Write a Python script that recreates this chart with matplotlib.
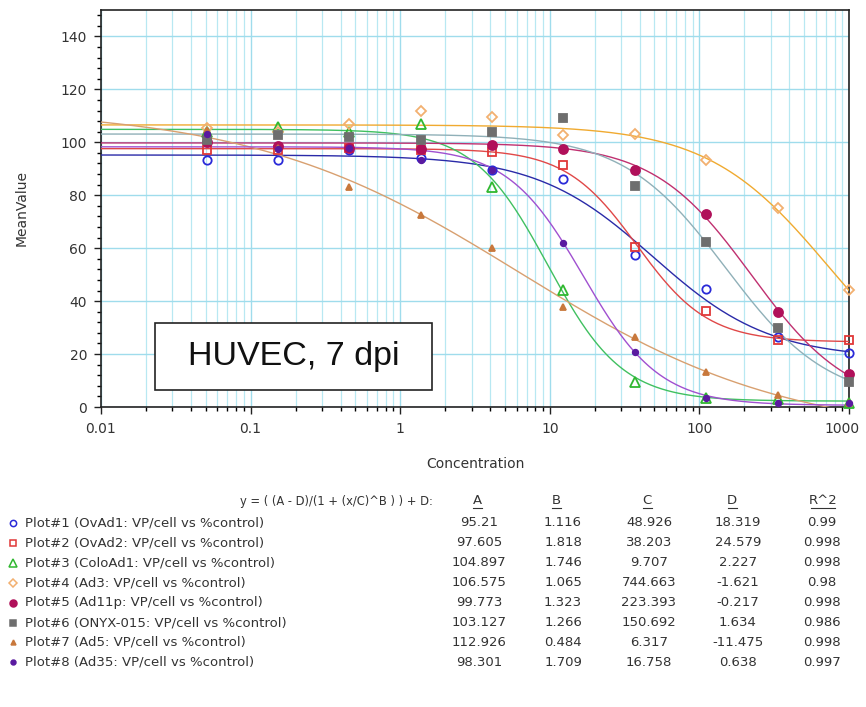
import numpy as np
import matplotlib
matplotlib.use('Agg')
import matplotlib.pyplot as plt
from matplotlib.patches import Rectangle
from matplotlib.transforms import offset_copy
from matplotlib.ticker import FixedLocator, FixedFormatter, MultipleLocator, LogLocator, NullFormatter

plt.rcParams['font.family'] = ['DejaVu Sans']

# 3-fold dilution series (VP/cell)
conc = [0.0508, 0.152, 0.457, 1.37, 4.12, 12.3, 37.0, 111.0, 333.0, 1000.0]

names = ['Plot#1 (OvAd1: VP/cell vs %control)',
         'Plot#2 (OvAd2: VP/cell vs %control)',
         'Plot#3 (ColoAd1: VP/cell vs %control)',
         'Plot#4 (Ad3: VP/cell vs %control)',
         'Plot#5 (Ad11p: VP/cell vs %control)',
         'Plot#6 (ONYX-015: VP/cell vs %control)',
         'Plot#7 (Ad5: VP/cell vs %control)',
         'Plot#8 (Ad35: VP/cell vs %control)']

# fitted 4PL parameters
A = [95.21, 97.605, 104.897, 106.575, 99.773, 103.127, 112.926, 98.301]
B = [1.116, 1.818, 1.746, 1.065, 1.323, 1.266, 0.484, 1.709]
C = [48.926, 38.203, 9.707, 744.663, 223.393, 150.692, 6.317, 16.758]
D = [18.319, 24.579, 2.227, -1.621, -0.217, 1.634, -11.475, 0.638]
R2 = [0.99, 0.998, 0.998, 0.98, 0.998, 0.986, 0.998, 0.997]

# measured %control values
ovad1 = [93.5, 93.2, 97, 94, 89.4, 86.3, 57.5, 44.4, 26.3, 20.5]
ovad2 = [97, 97, 98, 97, 96.3, 91.3, 60.5, 36.2, 25.3, 25.3]
coload1 = [104, 105.8, 104, 106.8, 83.1, 44.2, 9.5, 3.3, 3, 1.5]
ad3 = [105.5, 104, 107, 111.8, 109.5, 102.6, 103.3, 93.2, 75, 44.2]
ad11p = [100, 98.5, 97.7, 97.5, 98.9, 97.6, 89.4, 73.1, 36, 12.5]
onyx = [101, 102.6, 102, 100.8, 103.9, 109.3, 83.4, 62.4, 30, 9.5]
ad5 = [104.5, 98, 83.1, 72.5, 59.9, 37.9, 26.5, 13.3, 4.5, 1.4]
ad35 = [103.3, 97.5, 97.7, 93.2, 89.4, 61.8, 20.6, 3.3, 1.4, 1.4]
values = [ovad1, ovad2, coload1, ad3, ad11p, onyx, ad5, ad35]

# styles
mcolors = ['#2a2ad8', '#e03838', '#30b830', '#f2b070', '#b0105a', '#6e6e6e', '#c8783c', '#5a1aa0']
lcolors = ['#2a2aa8', '#e04848', '#40c060', '#f0aa30', '#c03070', '#90b0b8', '#d8a070', '#a050d0']
markers = ['o', 's', '^', 'D', 'o', 's', '^', 'o']
msizes = [6, 6, 7, 5.5, 6.5, 5.5, 4, 4]
filled = [False, False, False, False, True, True, True, True]


def fourpl(x, a, b, c, d):
    return d + (a - d) / (1 + (x / c) ** b)


fig = plt.figure(figsize=(8.66, 7.07), dpi=100)
ax = fig.add_axes([0.1166, 0.4243, 0.8638, 0.5616])

xs = np.logspace(-2, 3, 400)
for i in range(len(names)):
    ax.plot(xs, fourpl(xs, A[i], B[i], C[i], D[i]), color=lcolors[i], lw=1.0, zorder=3)
for i in range(len(names)):
    fc = mcolors[i] if filled[i] else 'none'
    ax.plot(conc, values[i], linestyle='none', marker=markers[i], ms=msizes[i],
            mec=mcolors[i], mfc=fc, mew=1.3, zorder=4, clip_on=False)

ax.set_xscale('log')
ax.set_xlim(0.01, 1000)
ax.set_ylim(0, 150)

xt = [0.01, 0.1, 1, 10, 100, 1000]
ax.xaxis.set_major_locator(FixedLocator(xt))
ax.xaxis.set_major_formatter(FixedFormatter(['0.01', '0.1', '1', '10', '100', '1000']))
ax.xaxis.set_minor_locator(LogLocator(base=10, subs=np.arange(2, 10)))
ax.xaxis.set_minor_formatter(NullFormatter())
ax.yaxis.set_major_locator(FixedLocator([0, 20, 40, 60, 80, 100, 120, 140]))
ax.yaxis.set_minor_locator(MultipleLocator(4))

ax.grid(which='major', color='#9fdcec', lw=1.0, zorder=0)
ax.grid(which='minor', axis='x', color='#b8e8f2', lw=0.9, zorder=0)
ax.set_axisbelow(True)

ax.tick_params(which='major', length=5, width=1, labelsize=10, colors='#222222', labelcolor='#333333')
ax.tick_params(axis='y', which='major', pad=5)
ax.tick_params(axis='x', which='major', pad=6)
ax.tick_params(which='minor', length=3, width=1)
for s in ax.spines.values():
    s.set_color('#222222')
    s.set_linewidth(1.2)

# keep the last x label inside the figure
fig.canvas.draw()
last = ax.get_xticklabels()[-1]
last.set_transform(offset_copy(last.get_transform(), fig=fig, x=-7, y=0, units='dots'))

ax.set_xlabel('Concentration', fontsize=10, color='#333333')
ax.set_ylabel('MeanValue', fontsize=10, color='#333333')
ax.xaxis.set_label_coords(0.5, -0.125)
ax.yaxis.set_label_coords(-0.097, 0.5)

ax.add_patch(Rectangle((0.0722, 0.0428), 0.3703, 0.1688, transform=ax.transAxes,
                       fc='white', ec='#222222', lw=1.2, zorder=6))
ax.text(0.2574, 0.1272, 'HUVEC, 7 dpi', transform=ax.transAxes, fontsize=24.5,
        family='Liberation Sans', color='#111111', va='center', ha='center', zorder=7)

# parameter table underneath
tx = fig.add_axes([0, 0, 1, 1], facecolor='none')
tx.set_xlim(0, 866)
tx.set_ylim(707, 0)
tx.axis('off')

tcol = '#333333'
fs = 9.5
tx.text(433, 502, 'y = ( (A - D)/(1 + (x/C)^B ) ) + D:', ha='right', va='center', fontsize=8.3, color=tcol)
headx = [477, 556, 647, 732, 823]
colx = [479, 563, 649, 738, 822]
heads = ['A', 'B', 'C', 'D', 'R^2']
for hx, h in zip(headx, heads):
    tx.text(hx, 501, h, ha='center', va='center', fontsize=fs, color=tcol)
    w = 9 if len(h) == 1 else 24
    tx.plot([hx - w / 2, hx + w / 2], [508, 508], color=tcol, lw=0.8)

for i in range(len(names)):
    yy = 523 + i * 19.9
    fc = mcolors[i] if filled[i] else 'none'
    tx.plot([13], [yy], marker=markers[i], ms=max(msizes[i] - 1.5, 3.5), mec=mcolors[i],
            mfc=fc, mew=1.1, linestyle='none')
    tx.text(25, yy, names[i], ha='left', va='center', fontsize=fs, color=tcol)
    row = [A[i], B[i], C[i], D[i], R2[i]]
    for cx, v in zip(colx, row):
        tx.text(cx, yy, '%g' % v, ha='center', va='center', fontsize=fs, color=tcol)

fig.savefig('out.png', dpi=100)
